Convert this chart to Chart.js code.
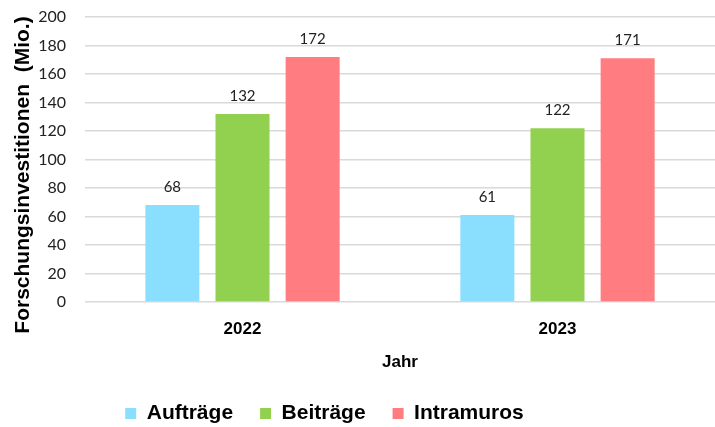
<!DOCTYPE html>
<html>
<head>
<meta charset="utf-8">
<script src="https://cdn.jsdelivr.net/npm/chart.js@4.4.0/dist/chart.umd.min.js"></script>
<style>
  html, body { margin: 0; padding: 0; background: #fff; }
  #wrap { width: 715px; height: 427px; }
</style>
</head>
<body>
<div id="wrap"><canvas id="chart" width="715" height="427"></canvas></div>
<script>
"use strict";

// data
const years = ["2022", "2023"];
const auftraege = [68, 61];
const beitraege = [132, 122];
const intramuros = [172, 171];
const yTicks = [0, 20, 40, 60, 80, 100, 120, 140, 160, 180, 200];
const yTitle = "Forschungsinvestitionen  (Mio.)";

const colBlue = "#8ADFFE";
const colGreen = "#92D050";
const colRed = "#FF7C80";

// values above each bar
const valueLabels = {
    id: "valueLabels",
    afterDatasetsDraw(chart) {
        const ctx = chart.ctx;
        ctx.save();
        ctx.font = "15px Lato";
        ctx.fillStyle = "#222";
        ctx.textAlign = "center";
        ctx.textBaseline = "middle";
        chart.data.datasets.forEach((ds, i) => {
            chart.getDatasetMeta(i).data.forEach((bar, j) => {
                ctx.fillText(String(ds.data[j]), bar.x, bar.y - 18);
            });
        });
        ctx.restore();
    }
};

// y axis title, sits a bit below the middle like in the original
const sideTitle = {
    id: "sideTitle",
    afterDraw(chart) {
        const ctx = chart.ctx;
        ctx.save();
        ctx.translate(23, 175);
        ctx.rotate(-Math.PI / 2);
        ctx.font = "bold 21px 'Liberation Sans'";
        ctx.fillStyle = "#000";
        ctx.textAlign = "center";
        ctx.textBaseline = "middle";
        ctx.fillText(yTitle, 0, 0);
        ctx.restore();
    }
};

// move the legend a little (left and down)
const legendShift = {
    id: "legendShift",
    afterLayout(chart) {
        const lg = chart.legend;
        lg.left -= 33; lg.right -= 33;
        lg.top += 7; lg.bottom += 7;
    }
};

const config = {
    type: "bar",
    data: {
        labels: years,
        datasets: [
            { label: "Aufträge", data: auftraege, backgroundColor: colBlue },
            { label: "Beiträge", data: beitraege, backgroundColor: colGreen },
            { label: "Intramuros", data: intramuros, backgroundColor: colRed }
        ]
    },
    options: {
        responsive: false,
        animation: false,
        layout: { padding: { top: 17, right: 0, left: 0, bottom: 0 } },
        datasets: {
            bar: { categoryPercentage: 0.668, barPercentage: 0.77 }
        },
        plugins: {
            tooltip: { enabled: false },
            legend: {
                position: "bottom",
                labels: {
                    boxWidth: 11,
                    boxHeight: 11,
                    padding: 27,
                    color: "#000",
                    font: { family: "Liberation Sans", size: 21, weight: "bold" }
                }
            }
        },
        scales: {
            x: {
                grid: { display: false, drawTicks: false },
                border: { display: false },
                ticks: {
                    padding: 17,
                    color: "#000",
                    font: { family: "Liberation Sans", size: 17, weight: "bold" }
                },
                title: {
                    display: true,
                    text: "Jahr",
                    color: "#000",
                    padding: { top: 0, bottom: -4 },
                    font: { family: "Liberation Sans", size: 17, weight: "bold" }
                },
                afterFit(scale) { scale.height = 67; }
            },
            y: {
                min: 0,
                max: 200,
                afterBuildTicks(scale) { scale.ticks = yTicks.map(v => ({ value: v })); },
                grid: { color: "#D9D9D9", lineWidth: 1.5, drawTicks: true, tickLength: 19, tickColor: "rgba(0,0,0,0)" },
                border: { display: false },
                ticks: {
                    padding: 0,
                    color: "#222",
                    font: { family: "Lato", size: 16 }
                },
                afterFit(scale) { scale.width = 85; }
            }
        }
    },
    plugins: [valueLabels, sideTitle, legendShift]
};

const myChart = new Chart(document.getElementById("chart"), config);
</script>
</body>
</html>
